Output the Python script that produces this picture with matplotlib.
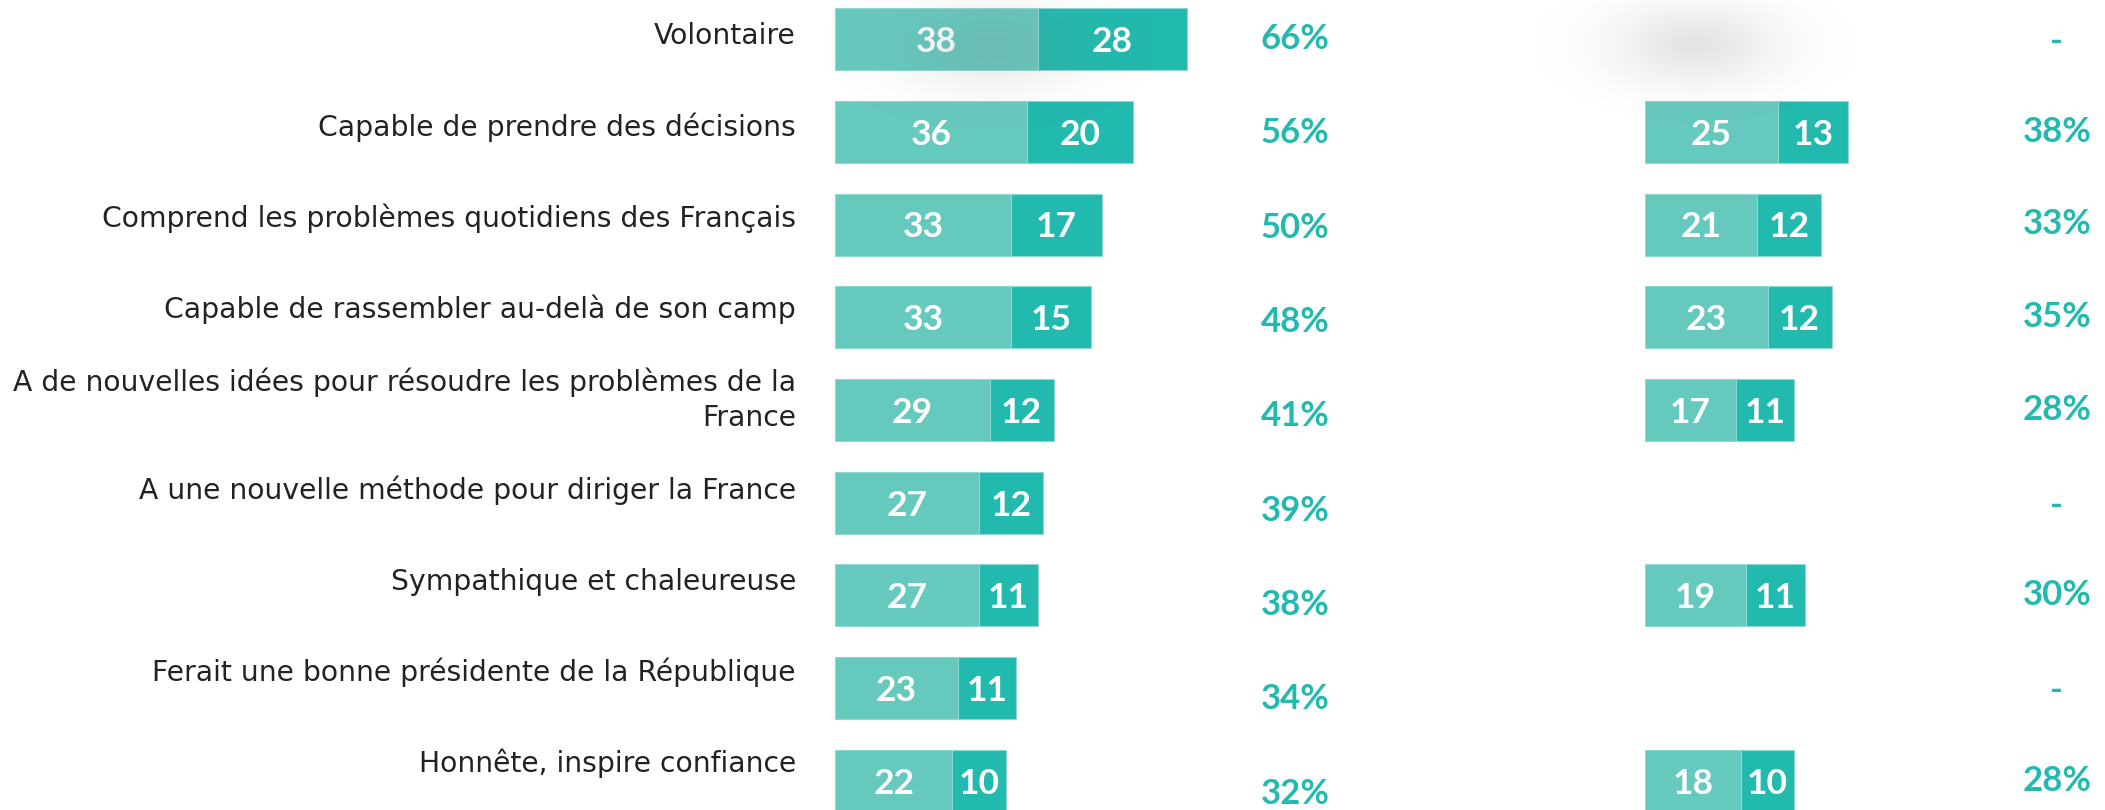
import numpy as np
import matplotlib.pyplot as plt

# data
items = [
    "Volontaire",
    "Capable de prendre des décisions",
    "Comprend les problèmes quotidiens des Français",
    "Capable de rassembler au-delà de son camp",
    "A de nouvelles idées pour résoudre les problèmes de la\nFrance",
    "A une nouvelle méthode pour diriger la France",
    "Sympathique et chaleureuse",
    "Ferait une bonne présidente de la République",
    "Honnête, inspire confiance",
]
left_a = [38, 36, 33, 33, 29, 27, 27, 23, 22]
left_b = [28, 20, 17, 15, 12, 12, 11, 11, 10]
right_a = [None, 25, 21, 23, 17, None, 19, None, 18]
right_b = [None, 13, 12, 12, 11, None, 11, None, 10]

LIGHT = "#66c9be"
DARK = "#22b9ae"
W, H = 2105, 810
PX = 5.33          # pixels per percentage point
PITCH = 92.75      # row pitch in pixels
Y0 = 39            # first row centre in pixels
BAR_H = 62 / PITCH

plt.rcParams['font.family'] = ['Lato', 'DejaVu Sans']

fig = plt.figure(figsize=(W / 100, H / 100), dpi=100)
ylim = ((H - Y0) / PITCH, -Y0 / PITCH)


def panel(x0, x1):
    ax = fig.add_axes([x0 / W, 0, (x1 - x0) / W, 1])
    ax.set_xlim(0, (x1 - x0) / PX)
    ax.set_ylim(*ylim)
    ax.axis("off")
    return ax


def draw_bars(ax, a, b):
    rows = [i for i, v in enumerate(a) if v is not None]
    va = [a[i] for i in rows]
    vb = [b[i] for i in rows]
    r1 = ax.barh(rows, va, height=BAR_H, color=LIGHT, edgecolor="#8fd8cf", linewidth=0.8)
    r2 = ax.barh(rows, vb, left=va, height=BAR_H, color=DARK, edgecolor="#8fd8cf", linewidth=0.8)
    for rects, vals in ((r1, va), (r2, vb)):
        for r, v in zip(rects, vals):
            ax.text(r.get_x() + r.get_width() / 2., r.get_y() + r.get_height() / 2. + 0.03, '%d' % v,
                    ha='center', va='center', color='white', fontsize=25.5, fontweight='bold')


ax1 = panel(835, 1345)
ax2 = panel(1645, 2105)
draw_bars(ax1, left_a, left_b)
draw_bars(ax2, right_a, right_b)

for i, lab in enumerate(items):
    ax1.text(-39 / 510, i - 0.03 - 0.02 * i, lab, transform=ax1.get_yaxis_transform(),
             ha='right', va='center', multialignment='right', fontsize=20.3,
             color='#222222', linespacing=1.3, family=['DejaVu Sans'])
    tot = left_a[i] + left_b[i]
    ax1.text((1295 - 835) / PX, i + 0.017 * i, '%d%%' % tot, ha='center', va='center',
             color=DARK, fontsize=25, fontweight='bold')
    if right_a[i] is None:
        ax2.text((2057 - 1645) / PX, i + 0.03, '-', ha='center', va='center',
                 color=DARK, fontsize=25, fontweight='bold')
    else:
        tot = right_a[i] + right_b[i]
        ax2.text((2057 - 1645) / PX, i, '%d%%' % tot, ha='center', va='center',
                 color=DARK, fontsize=25, fontweight='bold')

# soft grey shadows on top of the chart
ov = fig.add_axes([0, 0, 1, 1], zorder=10)
ov.axis("off")
yy, xx = np.mgrid[0:140, 0:320]
for cx, cy, sx, sy, peak in [(990, 48, 62, 30, 0.16), (1695, 44, 58, 28, 0.2)]:
    x0, y0 = cx - 160, max(cy - 70, 0)
    g = np.exp(-(((xx + x0 - cx) / sx) ** 2 + ((yy + y0 - cy) / sy) ** 2) / 2.)
    img = np.zeros((140, 320, 4))
    img[..., :3] = 0.5
    img[..., 3] = peak * g
    ov.imshow(img, extent=(x0, x0 + 320, y0 + 140, y0), interpolation='bilinear')
ov.set_xlim(0, W)
ov.set_ylim(H, 0)

fig.savefig("out.png", dpi=100)
